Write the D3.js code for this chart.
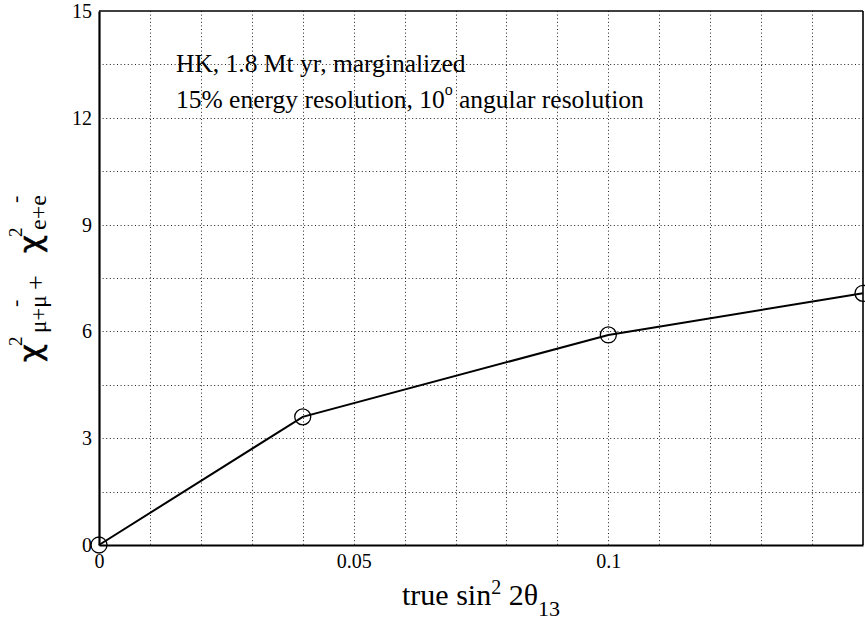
<!DOCTYPE html>
<html>
<head>
<meta charset="utf-8">
<script src="https://cdn.jsdelivr.net/npm/d3@7"></script>
<style>
  html, body { margin: 0; padding: 0; background: #fff; }
  svg { display: block; }
  .serif { font-family: "Liberation Serif", Tinos, "Times New Roman", Times, "DejaVu Serif", serif; fill: #000; }
  .greek { font-family: "DejaVu Sans", sans-serif; fill: #000; stroke: #000; stroke-width: 0.6px; }
</style>
</head>
<body>
<svg id="chart" width="865" height="621"></svg>
<script>
// chi-square sensitivity vs true sin^2 2theta13
const sin2Values = [0, 0.04, 0.1, 0.15];
const chi2Values = [0, 3.6, 5.9, 7.07];

const xTickValues = [0, 0.05, 0.1];
const xTickLabels = ["0", "0.05", "0.1"];
const yTickValues = [0, 3, 6, 9, 12, 15];
const yTickLabels = ["0", "3", "6", "9", "12", "15"];
const xGridValues = d3.range(1, 15).map(i => i / 100);
const yGridValues = d3.range(1, 10).map(i => i * 1.5);

const noteLine1 = "HK, 1.8 Mt yr, marginalized";
const noteLine2a = "15% energy resolution, 10";
const noteLine2b = "o";
const noteLine2c = " angular resolution";

const svg = d3.select("#chart");
const margin = { left: 99, top: 11, right: 2, bottom: 76 };
const W = 865, H = 621;

const x = d3.scaleLinear().domain([0, 0.15]).range([margin.left, W - margin.right]);
const y = d3.scaleLinear().domain([0, 15]).range([H - margin.bottom, margin.top]);

// dotted grid
const grid = svg.append("g").attr("stroke", "#222").attr("stroke-width", 1)
  .attr("stroke-dasharray", "1,2.6");
grid.selectAll("line.v").data(xGridValues).join("line")
  .attr("x1", d => Math.round(x(d)) + 0.5).attr("x2", d => Math.round(x(d)) + 0.5)
  .attr("y1", y(15)).attr("y2", y(0));
grid.selectAll("line.h").data(yGridValues).join("line")
  .attr("y1", d => Math.round(y(d)) + 0.5).attr("y2", d => Math.round(y(d)) + 0.5)
  .attr("x1", x(0)).attr("x2", x(0.15));

// frame
svg.append("line").attr("x1", x(0)).attr("x2", x(0.15)).attr("y1", y(15)).attr("y2", y(15))
  .attr("stroke", "#000").attr("stroke-width", 1.6);
svg.append("line").attr("x1", x(0.15)).attr("x2", x(0.15)).attr("y1", y(15)).attr("y2", y(0))
  .attr("stroke", "#000").attr("stroke-width", 1.6);

// axes
const xAxis = d3.axisBottom(x).tickValues(xTickValues)
  .tickFormat((d, i) => xTickLabels[i]).tickSize(0).tickPadding(9);
const gx = svg.append("g").attr("transform", `translate(0,${y(0)})`).call(xAxis);
gx.attr("font-family", null).attr("font-size", null);
gx.select(".domain").attr("stroke", "#000").attr("stroke-width", 2.2);
gx.selectAll("text").attr("class", "serif").style("font-size", "20px");

const yAxis = d3.axisLeft(y).tickValues(yTickValues)
  .tickFormat((d, i) => yTickLabels[i]).tickSize(0).tickPadding(7);
const gy = svg.append("g").attr("transform", `translate(${x(0)},0)`).call(yAxis);
gy.attr("font-family", null).attr("font-size", null);
gy.select(".domain").attr("stroke", "#000").attr("stroke-width", 2.2);
gy.selectAll("text").attr("class", "serif").style("font-size", "20px");

// curve
const pts = sin2Values.map((v, i) => [v, chi2Values[i]]);
svg.append("path").datum(pts)
  .attr("fill", "none").attr("stroke", "#000").attr("stroke-width", 2)
  .attr("d", d3.line().x(d => x(d[0])).y(d => y(d[1])));

svg.append("g").selectAll("circle").data(pts).join("circle")
  .attr("cx", d => x(d[0])).attr("cy", d => y(d[1])).attr("r", 8)
  .attr("fill", "none").attr("stroke", "#000").attr("stroke-width", 1.3);

// annotations
svg.append("text").attr("class", "serif").attr("x", 176).attr("y", 72)
  .style("font-size", "25.5px").text(noteLine1);
const n2 = svg.append("text").attr("class", "serif").attr("x", 176).attr("y", 108)
  .style("font-size", "25.5px");
n2.append("tspan").text(noteLine2a);
n2.append("tspan").style("font-size", "16px").attr("dy", -13).text(noteLine2b);
n2.append("tspan").attr("dy", 13).text(noteLine2c);

// x label
const xl = svg.append("text").attr("class", "serif").attr("x", 402).attr("y", 605)
  .style("font-size", "30px");
xl.append("tspan").text("true sin");
xl.append("tspan").style("font-size", "20px").attr("dy", -11).text("2");
xl.append("tspan").attr("dy", 11).text(" 2θ");
xl.append("tspan").style("font-size", "22px").attr("dy", 11).text("13");

// y label, laid out in its own rotated frame
const yl = svg.append("g").attr("transform", "translate(0,362) rotate(-90)");
const ypart = (cls, size, lx, ly, str) =>
  yl.append("text").attr("class", cls).style("font-size", size + "px")
    .attr("x", lx).attr("y", ly).text(str);
ypart("greek", 31, 0, 41, "χ");
ypart("serif", 19, 16, 22, "2");
ypart("serif", 23, 29, 46, "μ+μ");
ypart("serif", 22, 55, 22, "-");
ypart("serif", 26, 72, 44, "+");
ypart("greek", 31, 109, 41, "χ");
ypart("serif", 19, 125, 22, "2");
ypart("serif", 24, 132, 46, "e+e");
ypart("serif", 22, 159, 22, "-");
</script>
</body>
</html>
